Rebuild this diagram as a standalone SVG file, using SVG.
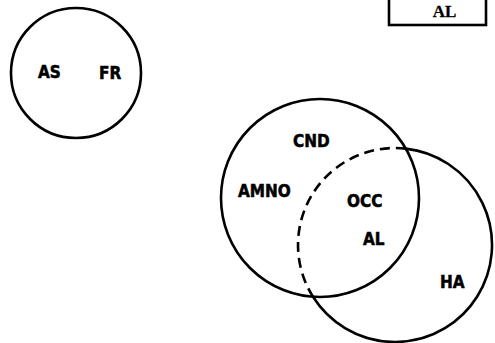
<svg xmlns="http://www.w3.org/2000/svg" width="495" height="343" viewBox="0 0 495 343">
  <style>
    .ring { fill: none; stroke: #000; stroke-width: 2.6; }
    .dash { stroke-dasharray: 10 6; }
    .lbl { font-family: "DejaVu Sans Condensed", "DejaVu Sans", "Liberation Sans", sans-serif; font-stretch: condensed; font-weight: bold; font-size: 17px; fill: #000; stroke: #000; stroke-width: 0.5; }
    .tag { font-family: "Liberation Serif", "Times New Roman", serif; font-weight: bold; font-size: 17px; fill: #000; stroke: #000; stroke-width: 0.3; }
  </style>
  <rect width="495" height="343" fill="#fff"/>

  <!-- top-right box -->
  <g id="box-al">
    <rect class="ring" x="389" y="-5" width="97" height="30"/>
    <text class="tag" x="444.5" y="17" text-anchor="middle">AL</text>
  </g>

  <!-- stand-alone set -->
  <g id="set-as-fr">
    <circle class="ring" cx="76" cy="73" r="65"/>
    <text class="lbl" x="38" y="78">AS</text>
    <text class="lbl" x="99" y="79">FR</text>
  </g>

  <!-- overlapping sets -->
  <g id="set-left">
    <circle class="ring" cx="320" cy="198" r="99"/>
    <text class="lbl" x="293" y="147">CND</text>
    <text class="lbl" x="238" y="197">AMNO</text>
  </g>

  <g id="set-right">
    <!-- outer part of the right circle -->
    <path class="ring" d="M405.8 148.6 A97 97 0 1 1 313 296.8"/>
    <!-- part lying inside the left circle -->
    <path class="ring dash" d="M405.8 148.6 A97 97 0 0 0 313 296.8"/>
    <text class="lbl" x="440" y="288">HA</text>
  </g>

  <g id="overlap">
    <text class="lbl" x="347" y="207">OCC</text>
    <text class="lbl" x="363" y="245">AL</text>
  </g>
</svg>
